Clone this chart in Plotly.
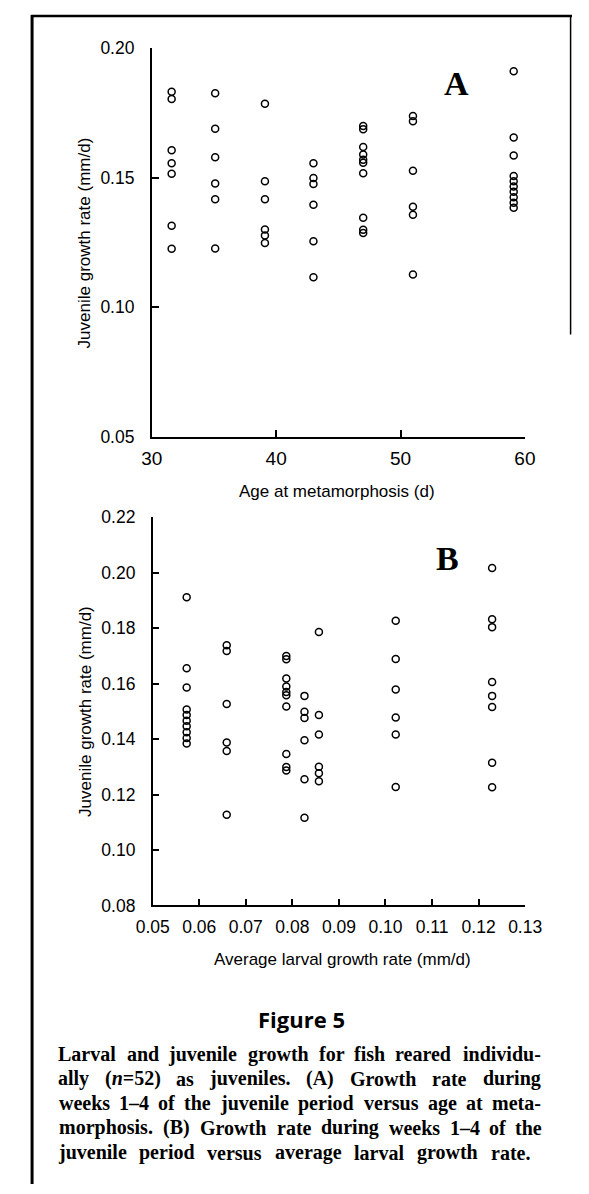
import plotly.graph_objects as go

W, H = 589, 1194

# ---------------- data ----------------
# seven groups of fish; age at metamorphosis (d) and average larval growth (mm/d)
ages = [31.6, 35.1, 39.1, 43.0, 47.0, 51.0, 59.1]
larval_rates = [0.1229, 0.1022, 0.0857, 0.0826, 0.0787, 0.0659, 0.0573]

# juvenile growth rate (mm/d), weeks 1-4, one list per group
juv_g1 = [0.2017, 0.1832, 0.1804, 0.1606, 0.1556, 0.1516, 0.1315, 0.1226]
juv_g2 = [0.1827, 0.1689, 0.1579, 0.1478, 0.1417, 0.1227]
juv_g3 = [0.1786, 0.1487, 0.1417, 0.1300, 0.1277, 0.1248]
juv_g4 = [0.1556, 0.1499, 0.1476, 0.1396, 0.1255, 0.1116]
juv_g5 = [0.1700, 0.1688, 0.1619, 0.1590, 0.1570, 0.1558, 0.1518, 0.1346, 0.1299, 0.1287]
juv_g6 = [0.1739, 0.1718, 0.1527, 0.1388, 0.1357, 0.1127]
juv_g7 = [0.1912, 0.1656, 0.1586, 0.1507, 0.1487, 0.1466, 0.1446, 0.1425, 0.1404, 0.1384]
juvenile_groups = [juv_g1, juv_g2, juv_g3, juv_g4, juv_g5, juv_g6, juv_g7]

a_xticks = [30, 40, 50, 60]
a_yticks = [0.05, 0.10, 0.15, 0.20]
b_xticks = [0.05, 0.06, 0.07, 0.08, 0.09, 0.10, 0.11, 0.12, 0.13]
b_yticks = [0.08, 0.10, 0.12, 0.14, 0.16, 0.18, 0.20, 0.22]

A_YMAX = 0.20

# ---------------- build point lists ----------------
ax_x, ax_y, bx_x, bx_y = [], [], [], []
for age, lr, ys in zip(ages, larval_rates, juvenile_groups):
    for v in ys:
        if v <= A_YMAX:
            ax_x.append(age)
            ax_y.append(v)
        bx_x.append(lr)
        bx_y.append(v)

marker = dict(symbol="circle-open", size=7, color="black", line=dict(width=1.5, color="black"))

fig = go.Figure()
fig.add_trace(go.Scatter(x=ax_x, y=ax_y, mode="markers", marker=marker, xaxis="x", yaxis="y",
                         showlegend=False, cliponaxis=True))
fig.add_trace(go.Scatter(x=bx_x, y=bx_y, mode="markers", marker=marker, xaxis="x2", yaxis="y2",
                         showlegend=False, cliponaxis=True))


def px(x):
    return x / W


def py(y):
    return 1 - y / H


TICKFONT = "Liberation Sans, Arial, sans-serif"
axis_common = dict(showline=True, linecolor="black", linewidth=1.6, ticks="inside", ticklen=7,
                   tickwidth=1.5, tickcolor="black", showgrid=False, zeroline=False,
                   fixedrange=True)

fig.update_layout(
    width=W, height=H, margin=dict(l=0, r=0, t=0, b=0),
    paper_bgcolor="white", plot_bgcolor="white",
    xaxis=dict(domain=[px(143), px(539)], range=[30, 60], tickvals=a_xticks,
               ticktext=[str(t) for t in a_xticks], anchor="y",
               tickfont=dict(family=TICKFONT, size=19, color="black"),
               ticklabelstandoff=4, **axis_common),
    yaxis=dict(domain=[py(434), py(39)], range=[0.05, 0.20], tickvals=a_yticks,
               ticktext=[f"{t:.2f}" for t in a_yticks], anchor="x",
               tickfont=dict(family=TICKFONT, size=17.5, color="black"),
               ticklabelstandoff=12, **axis_common),
    xaxis2=dict(domain=[px(144), px(539.3)], range=[0.05, 0.13], tickvals=b_xticks,
                ticktext=[f"{t:.2f}" for t in b_xticks], anchor="y2",
                tickfont=dict(family=TICKFONT, size=17.5, color="black"),
                ticklabelstandoff=5, **axis_common),
    yaxis2=dict(domain=[py(910.7), py(516)], range=[0.08, 0.22], tickvals=b_yticks,
                ticktext=[f"{t:.2f}" for t in b_yticks], anchor="x2",
                tickfont=dict(family=TICKFONT, size=17.5, color="black"),
                ticklabelstandoff=12, **axis_common),
)

ann = []


def add_text(x, y, text, size, family=TICKFONT, xanchor="center", yanchor="middle", angle=0):
    ann.append(dict(x=px(x), y=py(y), xref="paper", yref="paper", text=text, showarrow=False,
                    xanchor=xanchor, yanchor=yanchor, textangle=angle, borderpad=0,
                    font=dict(family=family, size=size, color="black")))


# axis titles
add_text(340, 490, "Age at metamorphosis (d)", 17)
add_text(345, 966, "Average larval growth rate (mm/d)", 17)
add_text(72, 236.5, "Juvenile growth rate (mm/d)", 17, angle=-90)
add_text(72, 713, "Juvenile growth rate (mm/d)", 17, angle=-90)

# panel letters
SERIF = "Liberation Serif, Times New Roman, serif"
add_text(466, 75, "<b>A</b>", 34, family=SERIF)
add_text(457, 558, "<b>B</b>", 34, family=SERIF)

# figure heading
add_text(302, 1026, "<b>Figure 5</b>", 22, family="Open Sans, Noto Sans, sans-serif")

# caption: justified lines, word by word (approximate bold-serif advance widths, /1000 em)
TB = {' ': 250, '(': 333, ')': 333, ',': 250, '.': 250, '-': 333, '–': 500, '=': 570,
      'A': 722, 'B': 667, 'G': 778, 'L': 667,
      'a': 500, 'b': 556, 'c': 444, 'd': 556, 'e': 444, 'f': 333, 'g': 500, 'h': 556,
      'i': 278, 'j': 333, 'k': 556, 'l': 278, 'm': 833, 'n': 556, 'o': 500, 'p': 556,
      'q': 556, 'r': 444, 's': 389, 't': 333, 'u': 556, 'v': 500, 'w': 722, 'x': 500,
      'y': 500, 'z': 444}
for d in "0123456789":
    TB[d] = 500

caption_lines = [
    ["Larval", "and", "juvenile", "growth", "for", "fish", "reared", "individu-"],
    ["ally", "(<i>n</i>=52)", "as", "juveniles.", "(A)", "Growth", "rate", "during"],
    ["weeks", "1–4", "of", "the", "juvenile", "period", "versus", "age", "at", "meta-"],
    ["morphosis.", "(B)", "Growth", "rate", "during", "weeks", "1–4", "of", "the"],
    ["juvenile", "period", "versus", "average", "larval", "growth", "rate."],
]
CAP_FS = 20
WIDTH_SCALE = 1.1          # rendered glyphs are a bit wider than the table
cap_left, cap_right = 43, 557
line_right = [cap_right, cap_right, cap_right, cap_right, 545]
line_y = [1062, 1087, 1112, 1137, 1162]


def plain(w):
    return w.replace("<i>", "").replace("</i>", "")


def wwidth(w):
    return sum(TB.get(c, 500) for c in plain(w)) / 1000 * CAP_FS * WIDTH_SCALE


for words, yy, rr in zip(caption_lines, line_y, line_right):
    total = sum(wwidth(w) for w in words)
    gap = (rr - cap_left - total) / (len(words) - 1)
    xx = cap_left
    for w in words:
        ww = wwidth(w)
        add_text(xx + ww / 2, yy, "<b>" + w + "</b>", CAP_FS, family=SERIF, xanchor="center")
        xx += ww + gap

fig.update_layout(annotations=ann)

# page frame lines
shapes = [
    dict(type="line", xref="paper", yref="paper", x0=px(16), x1=px(16), y0=py(5), y1=0,
         line=dict(color="black", width=3)),
    dict(type="line", xref="paper", yref="paper", x0=px(15), x1=1, y0=py(6), y1=py(6),
         line=dict(color="black", width=2.5)),
    dict(type="line", xref="paper", yref="paper", x0=px(587.5), x1=px(587.5), y0=py(6), y1=py(330),
         line=dict(color="black", width=1.5)),
]
fig.update_layout(shapes=shapes)

fig.write_html("out.html", config={"displayModeBar": False},
               post_script="document.body.style.margin='0';document.body.style.overflow='hidden';")
